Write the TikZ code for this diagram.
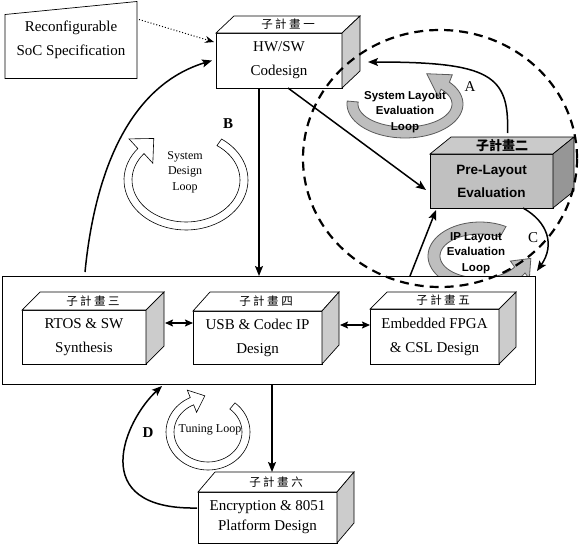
\documentclass[tikz,border=0pt]{standalone}
\usepackage{fontspec}
\setmainfont{Liberation Serif}
\setsansfont{Liberation Sans}
\newfontfamily\cjk{Noto Sans CJK TC}
\usetikzlibrary{arrows.meta,calc}
\definecolor{gfront}{RGB}{192,192,192}
\definecolor{gtop}{RGB}{202,202,202}
\definecolor{gside}{RGB}{150,150,150}
\definecolor{wside}{RGB}{204,204,204}
\definecolor{gloop}{RGB}{190,190,190}
\definecolor{gloopline}{RGB}{90,90,90}
\newcommand{\cjsp}[4]{#1\hspace{2.5pt}#2\hspace{2.5pt}#3\hspace{2.5pt}#4}
\newcommand{\boxfaces}[5]{%
 \draw[boxline,fill=#4] (#1.north west) -- ($(#1.north west)+(#2,#3)$) -- ($(#1.north east)+(#2,#3)$) -- (#1.north east) -- cycle;
 \draw[boxline,fill=#5] (#1.north east) -- ($(#1.north east)+(#2,#3)$) -- ($(#1.south east)+(#2,#3)$) -- (#1.south east) -- cycle;}
\newcommand{\bandarrow}[9]{%
 \pgfmathsetmacro\baPx{#2+(#4)*cos(#8)}%
 \pgfmathsetmacro\baPy{#3+(#5)*sin(#8)}%
 \pgfmathsetmacro\baTx{(#9)*(-(#4)*sin(#8))}%
 \pgfmathsetmacro\baTy{(#9)*((#5)*cos(#8))}%
 \pgfmathsetmacro\baTn{sqrt((\baTx)^2+(\baTy)^2)}%
 \pgfmathsetmacro\baNx{(#5)*cos(#8)}%
 \pgfmathsetmacro\baNy{(#4)*sin(#8)}%
 \pgfmathsetmacro\baNn{sqrt((\baNx)^2+(\baNy)^2)}%
 \draw[#1] plot[domain=#7:#8,samples=60] ({#2+(#4+#6)*cos(\x)},{#3+(#5+#6)*sin(\x)})
  -- ({\baPx+\baHf*\baNx/\baNn},{\baPy+\baHf*\baNy/\baNn})
  -- ({\baPx+\baHl*\baTx/\baTn},{\baPy+\baHl*\baTy/\baTn})
  -- ({\baPx-\baHf*\baNx/\baNn},{\baPy-\baHf*\baNy/\baNn})
  -- plot[domain=#8:#7,samples=60] ({#2+(#4-#6)*cos(\x)},{#3+(#5-#6)*sin(\x)}) -- cycle;}
\begin{document}
\begin{tikzpicture}[x=1pt,y=-1pt,
 boxline/.style={draw=black,line width=0.7pt},
 face/.style={draw=black,line width=0.7pt,inner sep=0pt,outer sep=0pt,align=center},
 wface/.style={face,fill=white,font=\fontsize{15}{24}\selectfont},
 gface/.style={face,fill=gfront,font=\sffamily\bfseries\fontsize{13.5}{23}\selectfont},
 cjklab/.style={font=\cjk\fontsize{11.5}{12}\selectfont,inner sep=0pt},
 conn/.style={line width=1.5pt,-{Stealth[length=10pt,width=8pt,inset=2pt]}},
 dbl/.style={line width=1.5pt,{Stealth[length=8pt,width=7pt,inset=1.5pt]}-{Stealth[length=8pt,width=7pt,inset=1.5pt]}},
 letter/.style={font=\fontsize{15}{15}\selectfont,inner sep=0pt},
 graylbl/.style={font=\sffamily\bfseries\fontsize{11.5}{15.5}\selectfont,align=center,inner sep=0pt},
 hollowlbl/.style={font=\fontsize{12}{15.5}\selectfont,align=center,inner sep=0pt},
 grayloop/.style={fill=gloop,draw=gloopline,line width=0.8pt},
 hollowloop/.style={fill=white,draw=black,line width=0.6pt}]
\useasboundingbox (0,0) rectangle (583,546);

% loops
\def\baHf{13}\def\baHl{22}
\bandarrow{grayloop}{405}{104}{52.5}{28.5}{5.5}{185}{-40}{-1}
\def\baHf{13}\def\baHl{16}
\bandarrow{grayloop}{480}{256}{46}{28}{6}{-60}{-330}{-1}
\def\baHf{17}\def\baHl{18}
\bandarrow{hollowloop}{186}{180}{58}{46}{4}{-55}{219}{1}
\def\baHf{12}\def\baHl{14}
\bandarrow{hollowloop}{208}{432}{38}{34}{4}{-50}{245}{1}

% container
\node[draw,line width=0.8pt,fill=white,minimum width=533pt,minimum height=108pt,inner sep=0pt,outer sep=0pt] (big) at (268.5,330) {};

% spec
\node[inner sep=0pt,outer sep=0pt,minimum width=132pt,minimum height=77pt,font=\fontsize{15}{24}\selectfont,align=center] (soc) at (71,40) {Reconfigurable\\SoC Specification};
\draw[boxline] (soc.south west) -- (soc.south east) -- (soc.north east) -- ($(soc.north west)+(0,13)$) -- cycle;

% boxes
\node[wface,minimum width=126pt,minimum height=55pt] (b1) at (279,60.5) {HW/SW\\Codesign};
\boxfaces{b1}{18}{-17}{white}{wside}
\node[cjklab] (b1l) at ($(b1.north)+(9,-8.5)$) {\cjsp{子}{計}{畫}{一}};

\node[gface,minimum width=123pt,minimum height=54pt] (b2) at (491.5,181) {Pre-Layout\\Evaluation};
\boxfaces{b2}{21}{-17}{gtop}{gside}
\node[cjklab,font=\cjk\bfseries\fontsize{13}{13}\selectfont] (b2l) at ($(b2.north)+(10.5,-8.5)$) {子計畫二};

\node[wface,minimum width=124pt,minimum height=54pt] (b3) at (84,337) {RTOS \& SW\\Synthesis};
\boxfaces{b3}{18}{-18}{white}{wside}
\node[cjklab] (b3l) at ($(b3.north)+(9,-9)$) {\cjsp{子}{計}{畫}{三}};

\node[wface,minimum width=129pt,minimum height=53pt] (b4) at (257.5,337.5) {USB \& Codec IP\\Design};
\boxfaces{b4}{17}{-19}{white}{wside}
\node[cjklab] (b4l) at ($(b4.north)+(8.5,-9.5)$) {\cjsp{子}{計}{畫}{四}};

\node[wface,minimum width=129pt,minimum height=55pt] (b5) at (434.5,336.5) {Embedded FPGA\\\& CSL Design};
\boxfaces{b5}{17}{-17}{white}{wside}
\node[cjklab] (b5l) at ($(b5.north)+(8.5,-8.5)$) {\cjsp{子}{計}{畫}{五}};

\node[wface,minimum width=139pt,minimum height=51pt,font=\fontsize{15}{20}\selectfont] (b6) at (267.5,517.5) {Encryption \& 8051\\Platform Design};
\boxfaces{b6}{17}{-20}{white}{wside}
\node[cjklab] (b6l) at ($(b6.north)+(8.5,-10)$) {\cjsp{子}{計}{畫}{六}};

% dashed circle
\draw[line width=2.2pt,dash pattern=on 9pt off 6pt] (440,158.5) ellipse[x radius=137,y radius=128.5];

% connectors
\draw[line width=1pt,dotted,-{Stealth[length=9pt,width=7pt]}] ($(soc.north east)+(2,18)$) -- ($(b1.north west)+(-2,9)$);
\draw[conn] ($(big.north west)+(83,-4)$) .. controls +(10,-102) and +(-82,25) .. ($(b1.west)+(-4,0)$);
\coordinate (p1) at ($(b1.south)+(-20,0)$);
\draw[conn] (p1) -- (p1 |- big.north);
\draw[conn] ($(b1.south)+(9,0)$) -- ($(b2.west)+(-4,9)$);
\draw[conn] ($(b2.north)+(16,-21)$) .. controls +(2,-58) and +(122,0) .. ($(b1.east)+(26,1.5)$);
\draw[conn] ($(b2.south)+(31.5,0)$) .. controls +(25,14) and +(18,-26) .. ($(big.north east)+(2,-5)$);
\draw[conn] ($(big.north)+(141.5,0)$) -- ($(b2.south west)+(6,2)$);
\draw[dbl] ($(b3.east)+(19,-14)$) -- ($(b4.west)+(0,-14.5)$);
\draw[dbl] ($(b4.east)+(18,-12.5)$) -- ($(b5.west)+(0,-11.5)$);
\coordinate (p2) at ($(big.south)+(3.5,0)$);
\draw[conn] (p2) -- ($(p2 |- b6.north)+(0,-20)$);
\draw[conn] ($(b6.west)+(-1,-9.5)$) .. controls +(-112,2) and +(-37,34) .. ($(big.south west)+(160,2)$);

% loop labels
\node[graylbl] (sll) at (405,112) {System Layout\\Evaluation\\Loop};
\node[graylbl] (ipl) at (476,253) {IP Layout\\Evaluation\\Loop};
\node[hollowlbl] (sdl) at (185,172) {System\\Design\\Loop};
\node[hollowlbl] (tl) at (210,430) {Tuning Loop};

% letters
\node[letter] (la) at (470,87) {A};
\node[letter,font=\bfseries\fontsize{15}{15}\selectfont] (lb) at (228,124) {B};
\node[letter] (lc) at (533,238) {C};
\node[letter,font=\bfseries\fontsize{15}{15}\selectfont] (ld) at (148,433) {D};
\end{tikzpicture}
\end{document}
